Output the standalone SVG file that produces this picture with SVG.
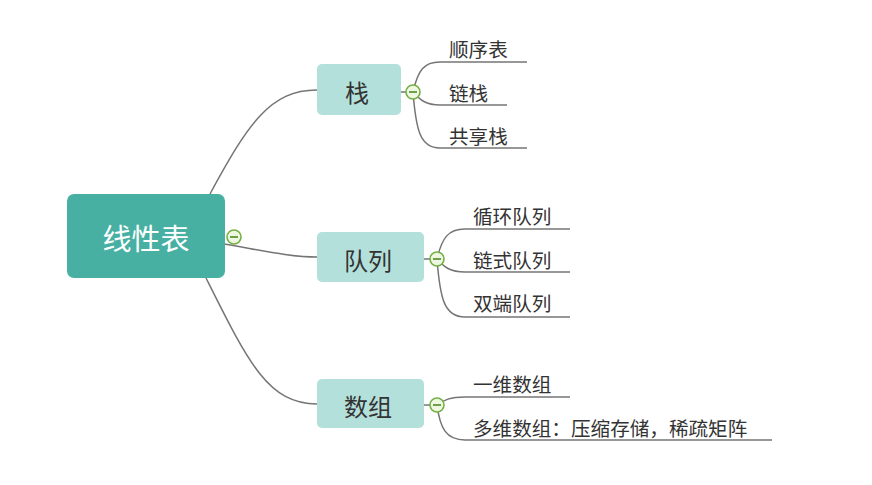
<svg xmlns="http://www.w3.org/2000/svg" width="872" height="485" viewBox="0 0 872 485">
<style>
.root{fill:#47b0a3}
.sub{fill:#b4e0dc}
.rt{font-family:"Noto Sans CJK SC","Noto Sans",sans-serif;font-size:29px;fill:#fff;text-anchor:middle;dominant-baseline:central}
.st{font-family:"Noto Sans CJK SC","Noto Sans",sans-serif;font-size:24px;fill:#333;text-anchor:middle;dominant-baseline:central}
.lt{font-family:"Noto Sans CJK SC","Noto Sans",sans-serif;font-size:19.6px;fill:#333;dominant-baseline:central}
.ln{fill:none;stroke:#757575;stroke-width:1.5}
.tg circle{fill:#eef7e2;stroke:#75b043;stroke-width:1.6}
.tg line{stroke:#4d8a22;stroke-width:1.6}
</style>
<rect width="872" height="485" fill="#fff"/>
<g id="connectors">
<path class="ln" d="M210 194 C248 124 270 90 317 90"/>
<path class="ln" d="M224 244 C260 250 290 257 317 257"/>
<path class="ln" d="M206 278 C248 362 268 404 317 404"/>
<path class="ln" d="M401 92 H406"/>
<path class="ln" d="M413 92 C418 70 424 62 440 62 H527"/>
<path class="ln" d="M413 92 C420 100 426 105 440 105 H507"/>
<path class="ln" d="M413 92 C416 130 420 148 440 148 H527"/>
<path class="ln" d="M424 259 H430"/>
<path class="ln" d="M437 259 C442 238 448 229 465 229 H570"/>
<path class="ln" d="M437 259 C444 267 450 272 465 272 H570"/>
<path class="ln" d="M437 259 C440 298 444 317 465 317 H570"/>
<path class="ln" d="M424 405 H430"/>
<path class="ln" d="M437 405 C444 400 450 397 465 397 H570"/>
<path class="ln" d="M437 405 C440 428 446 440 465 440 H772"/>
</g>
<g id="root">
<rect class="root" x="67" y="194" width="158" height="84" rx="7"/>
<text class="rt" x="146" y="237">线性表</text>
<g class="tg"><circle cx="234" cy="237" r="7"/><line x1="230" y1="237" x2="238" y2="237"/></g>
</g>
<g id="stack">
<rect class="sub" x="317" y="64" width="84" height="51" rx="5"/>
<text class="st" x="357" y="91">栈</text>
<g class="tg"><circle cx="413" cy="92" r="7"/><line x1="409" y1="92" x2="417" y2="92"/></g>
</g>
<g id="stack-1"><text class="lt" x="449" y="48">顺序表</text></g>
<g id="stack-2"><text class="lt" x="449" y="92">链栈</text></g>
<g id="stack-3"><text class="lt" x="449" y="135">共享栈</text></g>
<g id="queue">
<rect class="sub" x="317" y="232" width="107" height="50" rx="5"/>
<text class="st" x="368" y="259">队列</text>
<g class="tg"><circle cx="437" cy="259" r="7"/><line x1="433" y1="259" x2="441" y2="259"/></g>
</g>
<g id="queue-1"><text class="lt" x="473" y="215">循环队列</text></g>
<g id="queue-2"><text class="lt" x="473" y="259">链式队列</text></g>
<g id="queue-3"><text class="lt" x="473" y="302">双端队列</text></g>
<g id="array">
<rect class="sub" x="317" y="379" width="107" height="49" rx="5"/>
<text class="st" x="368" y="405">数组</text>
<g class="tg"><circle cx="437" cy="405" r="7"/><line x1="433" y1="405" x2="441" y2="405"/></g>
</g>
<g id="array-1"><text class="lt" x="473" y="383">一维数组</text></g>
<g id="array-2"><text class="lt" x="473" y="427">多维数组：压缩存储，稀疏矩阵</text></g>
</svg>
